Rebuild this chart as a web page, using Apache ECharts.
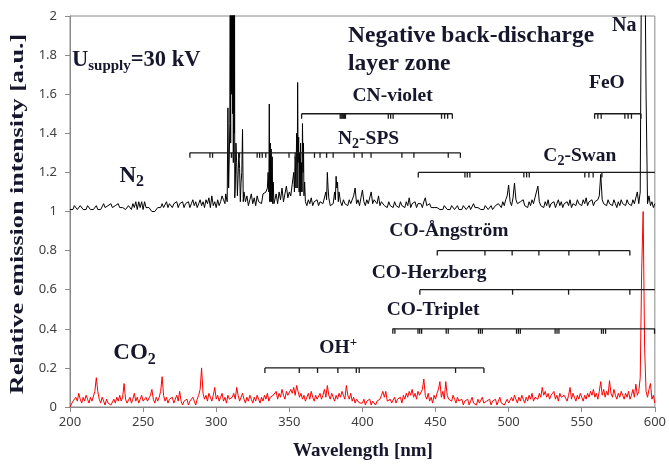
<!DOCTYPE html>
<html><head><meta charset="utf-8">
<script src="https://cdn.jsdelivr.net/npm/echarts@6/dist/echarts.min.js"></script>
<style>html,body{margin:0;padding:0;background:#fff}#c{width:669px;height:466px}</style>
</head><body><div id="c"></div>
<script>
// ---- data: sampling grid (nm) ----
const wlStart = 200;
const wlStep = 1;

// N2 (black) spectrum, 200..600 nm, 1 nm step
const n2Values = [
1.01,1.02,1.01,1.03,1.02,1.01,1.02,1.03,1.02,1.01,
1.02,1.01,1.03,1.02,1.01,1.02,1.01,1.02,1.03,1.01,
1.02,1.01,1.02,1.04,1.02,1.01,1.03,1.02,1.04,1.02,
1.01,1.03,1.02,1.04,1.02,1.01,1.02,1.03,1.01,1.02,
1.03,1.02,1.01,1.04,1.02,1.05,1.01,1.05,1.02,1.05,
1.01,1.05,1.02,1.01,1.02,1.01,1.00,1.01,1.00,1.01,
1.02,1.01,1.02,1.04,1.02,1.03,1.05,1.02,1.04,1.03,
1.02,1.04,1.03,1.05,1.02,1.04,1.03,1.05,1.02,1.04,
1.03,1.05,1.02,1.04,1.06,1.03,1.05,1.02,1.04,1.06,
1.03,1.05,1.02,1.06,1.04,1.07,1.02,1.08,1.03,1.05,
1.02,1.06,1.03,1.05,1.08,1.06,1.04,1.08,1.53,1.30,
2.40,2.60,2.30,1.12,1.25,1.07,1.22,1.15,1.42,1.10,
1.05,1.08,1.03,1.06,1.09,1.04,1.07,1.03,1.08,1.05,
1.06,1.04,1.09,1.08,1.10,1.12,1.10,1.35,1.05,1.15,
1.05,1.09,1.04,1.10,1.06,1.12,1.05,1.09,1.13,1.07,
1.10,1.08,1.14,1.20,1.28,1.40,1.25,1.30,1.10,1.45,
1.08,1.05,1.03,1.06,1.04,1.07,1.03,1.05,1.04,1.06,
1.03,1.05,1.06,1.04,1.05,1.10,1.20,1.07,1.03,1.02,
1.04,1.10,1.18,1.15,1.10,1.05,1.03,1.06,1.04,1.05,
1.03,1.06,1.04,1.05,1.08,1.12,1.04,1.06,1.03,1.07,
1.11,1.05,1.03,1.06,1.04,1.05,1.10,1.04,1.06,1.07,
1.04,1.08,1.03,1.05,1.06,1.03,1.04,1.02,1.05,1.03,
1.04,1.02,1.05,1.03,1.04,1.02,1.05,1.03,1.04,1.02,
1.05,1.03,1.07,1.02,1.04,1.03,1.05,1.02,1.04,1.03,
1.04,1.02,1.05,1.07,1.03,1.02,1.04,1.02,1.03,1.02,
1.01,1.02,1.03,1.01,1.02,1.01,1.03,1.02,1.01,1.02,
1.01,1.03,1.02,1.01,1.02,1.03,1.01,1.02,1.01,1.03,
1.02,1.01,1.02,1.03,1.01,1.02,1.04,1.02,1.01,1.02,
1.03,1.01,1.02,1.01,1.03,1.02,1.01,1.02,1.03,1.01,
1.02,1.03,1.02,1.04,1.03,1.02,1.05,1.03,1.06,1.08,
1.135,1.05,1.03,1.07,1.145,1.06,1.04,1.03,1.05,1.04,
1.06,1.03,1.04,1.02,1.05,1.03,1.06,1.04,1.07,1.10,
1.13,1.05,1.03,1.04,1.02,1.05,1.03,1.06,1.02,1.04,
1.03,1.05,1.02,1.04,1.06,1.03,1.05,1.02,1.04,1.03,
1.05,1.03,1.06,1.02,1.04,1.05,1.03,1.06,1.04,1.05,
1.03,1.06,1.04,1.07,1.03,1.05,1.04,1.06,1.03,1.05,
1.04,1.06,1.08,1.19,1.06,1.04,1.05,1.03,1.06,1.04,
1.05,1.03,1.06,1.04,1.02,1.05,1.03,1.06,1.04,1.05,
1.03,1.06,1.04,1.05,1.03,1.06,1.04,1.05,1.10,1.04,
1.10,2.50,2.50,2.50,1.60,1.04,1.08,1.03,1.05,1.02,
1.04
];

// N2 fine structure inside the strong band heads (extra samples between grid points)
const n2FineWl = [
306.5, 307.5, 308.5, 309.3, 309.6, 309.9, 310.2, 310.5, 310.7, 311.3, 311.5, 311.7, 312.3, 312.5, 312.7,
313.5, 314.5, 315.5, 316.5, 317.5, 318.5,
335.5, 336.3, 336.6, 337.3, 337.6, 338.3, 338.6, 339.5,
353.5, 354.5, 355.4, 355.7, 356.4, 356.7, 357.4, 357.7, 358.4, 358.7, 359.4, 359.7, 360.5,
375.5, 376.5, 381.5, 382.5, 383.5
];
const n2FineVal = [
1.09, 1.05, 1.12, 1.45, 2.50, 1.35, 2.50, 1.60, 2.50, 1.50, 2.50, 1.25, 1.40, 2.50, 1.07,
1.35, 1.08, 1.30, 1.05, 1.20, 1.05,
1.20, 1.55, 1.05, 1.05, 1.32, 1.28, 1.04, 1.04,
1.10, 1.12, 1.12, 1.66, 1.38, 1.10, 1.08, 1.35, 1.25, 1.10, 1.20, 1.35, 1.15,
1.06, 1.12, 1.06, 1.12, 1.05
];

// CO2 (red) spectrum, 200..600 nm, 1 nm step
const co2Values = [
0.00,0.01,0.03,0.02,0.05,0.03,0.07,0.04,0.02,0.05,
0.03,0.06,0.04,0.02,0.05,0.03,0.04,0.08,0.15,0.08,
0.04,0.02,0.05,0.03,0.01,0.04,0.02,0.03,0.01,0.02,
0.04,0.02,0.05,0.03,0.06,0.03,0.05,0.12,0.04,0.02,
0.03,0.05,0.02,0.04,0.07,0.03,0.05,0.02,0.04,0.06,
0.03,0.02,0.05,0.03,0.04,0.06,0.09,0.04,0.02,0.05,
0.03,0.05,0.08,0.155,0.06,0.03,0.05,0.02,0.04,0.03,
0.05,0.02,0.04,0.06,0.03,0.08,0.03,0.01,0.03,0.02,
0.04,0.01,0.03,0.02,0.05,0.03,0.01,0.04,0.06,0.09,
0.20,0.07,0.04,0.06,0.03,0.07,0.05,0.03,0.06,0.10,
0.04,0.06,0.03,0.05,0.07,0.03,0.05,0.02,0.06,0.04,
0.03,0.05,0.07,0.04,0.10,0.06,0.03,0.05,0.07,0.04,
0.02,0.05,0.03,0.06,0.04,0.02,0.05,0.03,0.06,0.04,
0.02,0.05,0.03,0.06,0.04,0.07,0.03,0.05,0.04,0.06,
0.05,0.08,0.04,0.07,0.05,0.09,0.06,0.04,0.08,0.06,
0.05,0.09,0.07,0.10,0.06,0.11,0.08,0.05,0.07,0.04,
0.06,0.03,0.05,0.07,0.04,0.08,0.05,0.03,0.06,0.04,
0.05,0.07,0.04,0.06,0.09,0.05,0.11,0.06,0.04,0.07,
0.05,0.03,0.06,0.04,0.07,0.05,0.08,0.06,0.04,0.11,
0.06,0.04,0.07,0.03,0.05,0.02,0.04,0.03,0.02,0.03,
0.02,0.04,0.01,0.03,0.02,0.04,0.01,0.03,0.02,0.01,
0.03,0.02,0.04,0.06,0.08,0.05,0.08,0.03,0.02,0.04,
0.02,0.03,0.05,0.02,0.04,0.03,0.05,0.02,0.06,0.04,
0.07,0.05,0.08,0.06,0.09,0.05,0.07,0.04,0.08,0.06,
0.05,0.09,0.143,0.06,0.04,0.07,0.03,0.05,0.02,0.06,
0.04,0.07,0.09,0.13,0.05,0.08,0.04,0.13,0.06,0.04,
0.05,0.03,0.06,0.04,0.02,0.05,0.03,0.02,0.04,0.01,
0.03,0.02,0.04,0.01,0.03,0.05,0.02,0.03,0.01,0.04,
0.02,0.03,0.05,0.02,0.01,0.03,0.02,0.04,0.01,0.03,
0.02,0.04,0.01,0.03,0.05,0.02,0.03,0.01,0.02,0.04,
0.02,0.03,0.05,0.03,0.06,0.04,0.02,0.05,0.03,0.06,
0.04,0.02,0.05,0.03,0.06,0.04,0.07,0.03,0.05,0.06,
0.04,0.07,0.05,0.10,0.06,0.08,0.05,0.07,0.04,0.06,
0.05,0.08,0.04,0.06,0.03,0.07,0.05,0.04,0.06,0.05,
0.03,0.06,0.10,0.04,0.07,0.05,0.03,0.06,0.04,0.07,
0.05,0.03,0.06,0.04,0.07,0.05,0.08,0.06,0.09,0.05,
0.07,0.04,0.08,0.13,0.06,0.09,0.05,0.08,0.06,0.135,
0.07,0.05,0.09,0.06,0.04,0.07,0.05,0.08,0.06,0.04,
0.07,0.05,0.08,0.04,0.06,0.09,0.05,0.117,0.06,0.08,
0.15,0.70,1.00,0.30,0.08,0.05,0.09,0.12,0.04,0.06,
0.02
];

// axis ticks
const xMin = 200, xMax = 600, xInterval = 50;
const yMin = 0, yMax = 2, yInterval = 0.2;

// band-head annotation brackets
const bandNames  = ['CN-violet','N2-SPS','C2-Swan','FeO','CO-Ångström','CO-Herzberg','CO-Triplet','OH+'];
const bandLevel  = [1.5, 1.3, 1.2, 1.5, 0.8, 0.6, 0.4, 0.2];
const bandStart  = [358.4, 282.0, 438.2, 558.6, 451.2, 439.3, 420.6, 333.3];
const bandEnd    = [461.5, 467.0, 600.0, 590.5, 582.9, 600.0, 600.0, 483.1];
const bandTicks  = [
  [358.4, 384.8, 385.4, 386.0, 386.6, 387.2, 387.8, 388.4, 417.7, 419.3, 421.0, 454.1, 456.2, 458.3, 461.5],
  [282.0, 295.7, 297.5, 310.4, 311.7, 313.6, 315.9, 328.0, 329.7, 331.5, 333.9, 349.8, 354.0, 357.7, 367.2, 371.0, 375.5, 380.0, 394.3, 399.8, 405.9, 427.0, 435.2, 458.7, 467.0],
  [438.2, 470.1, 471.7, 473.5, 510.4, 512.3, 514.1, 552.1, 554.9, 557.8, 563.8],
  [558.8, 561.0, 563.3, 579.5, 581.7, 584.0, 590.5],
  [451.2, 483.8, 502.4, 520.7, 541.2, 561.9, 582.9],
  [439.3, 502.7, 541.0, 582.9],
  [420.8, 422.2, 438.0, 439.2, 440.5, 457.3, 458.7, 479.4, 480.7, 482.0, 505.4, 506.7, 508.0, 531.8, 533.1, 534.4, 563.5, 564.8, 566.3, 599.8],
  [333.3, 356.8, 369.3, 383.2, 395.8, 397.8, 463.7, 483.1]
];

// ---- chart ----
const TEXT = '#16162c';
const SERIF = '"Liberation Serif", "Times New Roman", serif';
const AXISC = '#8a8a8a';
const chart = echarts.init(document.getElementById('c'), null, {renderer: 'canvas'});

const mctx = document.createElement('canvas').getContext('2d');
function fontOf(s){ return 'bold ' + s + 'px ' + SERIF; }
function label(x, base, parts){
  const out = [];
  let cx = x;
  parts.forEach(p => {
    const t = p[0], s = p[1], dy = p[2] || 0;
    mctx.font = fontOf(s);
    out.push({
      type: 'text', x: cx, y: base + dy - 0.305 * s, silent: true, z: 100,
      style: {text: t, font: fontOf(s), fontSize: s, fontWeight: 'bold', fontFamily: SERIF,
              fill: TEXT, textAlign: 'left', textVerticalAlign: 'middle', align: 'left', verticalAlign: 'middle'}
    });
    cx += mctx.measureText(t).width;
  });
  return out;
}

const L = 19.5;
let graphics = [];
graphics = graphics.concat(
  label(72, 67, [['U', 22.5], ['supply', 15, 4], ['=30 kV', 22.5]]),
  label(348, 43, [['Negative back-discharge', 23.5]]),
  label(348, 71.5, [['layer zone', 23.5]]),
  label(612, 31.5, [['Na', 20]]),
  label(589, 89, [['FeO', L]]),
  label(352.5, 101.5, [['CN-violet', L]]),
  label(338, 145, [['N', L], ['2', 14, 3.5], ['-SPS', L]]),
  label(543.3, 161.7, [['C', L], ['2', 14, 3.5], ['-Swan', L]]),
  label(119.5, 183, [['N', 23], ['2', 16, 4]]),
  label(389.3, 236.7, [['CO-Ångström', L]]),
  label(371.7, 279.3, [['CO-Herzberg', L]]),
  label(386.7, 316, [['CO-Triplet', L]]),
  label(319.3, 354, [['OH', L], ['+', 13, -7]]),
  label(113.3, 360, [['CO', 23], ['2', 16, 5]])
);
// axis titles
graphics.push({
  type: 'text', x: 18, y: 214, rotation: Math.PI / 2, scaleX: 1.45, silent: true,
  style: {text: 'Relative emission intensity [a.u.]', font: fontOf(18), fontSize: 18, fontWeight: 'bold', fontFamily: SERIF,
          fill: TEXT, textAlign: 'center', textVerticalAlign: 'middle', align: 'center', verticalAlign: 'middle'}
});
graphics.push({
  type: 'text', x: 363, y: 451, silent: true,
  style: {text: 'Wavelength [nm]', font: fontOf(19), fontSize: 19, fontWeight: 'bold', fontFamily: SERIF,
          fill: TEXT, textAlign: 'center', textVerticalAlign: 'middle', align: 'center', verticalAlign: 'middle'}
});

function toPairs(vals){ return vals.map((v, i) => [wlStart + i * wlStep, v]); }
function withFine(base, fw, fv){
  return base.concat(fw.map((w, i) => [w, fv[i]])).sort((a, b) => a[0] - b[0]);
}

const axisCommon = {
  axisLine: {show: true, lineStyle: {color: AXISC, width: 1}},
  axisTick: {show: true, inside: false, length: 5, lineStyle: {color: AXISC}},
  splitLine: {show: false},
  axisLabel: {color: '#404040', fontSize: 13, fontFamily: '"Noto Sans", "Open Sans", sans-serif'}
};

chart.setOption({
  animation: false,
  backgroundColor: '#fff',
  grid: {left: 70, right: 13, top: 16, bottom: 59, show: true, borderColor: AXISC, borderWidth: 1},
  xAxis: Object.assign({type: 'value', min: xMin, max: xMax, interval: xInterval}, axisCommon,
    {axisLabel: Object.assign({}, axisCommon.axisLabel, {margin: 9})}),
  yAxis: Object.assign({type: 'value', min: yMin, max: yMax, interval: yInterval}, axisCommon,
    {axisLabel: Object.assign({}, axisCommon.axisLabel, {margin: 13})}),
  series: [
    {type: 'line', name: 'N2', data: withFine(toPairs(n2Values), n2FineWl, n2FineVal), showSymbol: false, symbol: 'none', clip: true,
     lineStyle: {color: '#000', width: 1}, itemStyle: {color: '#000'}, z: 3},
    {type: 'line', name: 'CO2', data: toPairs(co2Values), showSymbol: false, symbol: 'none', clip: true,
     lineStyle: {color: '#ff0000', width: 1}, itemStyle: {color: '#ff0000'}, z: 4},
    {type: 'custom', name: 'bands', clip: false, z: 5,
     data: bandNames.map((n, i) => [bandStart[i], bandEnd[i], bandLevel[i], i]),
     encode: {x: [0, 1], y: 2},
     renderItem: function(params, api){
       const i = api.value(3);
       const y = bandLevel[i];
       const p0 = api.coord([bandStart[i], y]);
       const p1 = api.coord([bandEnd[i], y]);
       const st = {stroke: '#1a1a1a', lineWidth: 1.3};
       const children = [{type: 'line', shape: {x1: p0[0], y1: p0[1], x2: p1[0], y2: p1[1]}, style: st}];
       bandTicks[i].forEach(t => {
         const p = api.coord([t, y]);
         children.push({type: 'line', shape: {x1: p[0], y1: p[1], x2: p[0], y2: p[1] + 5}, style: st});
       });
       return {type: 'group', children: children};
     }}
  ],
  graphic: graphics
});
</script>
</body></html>
